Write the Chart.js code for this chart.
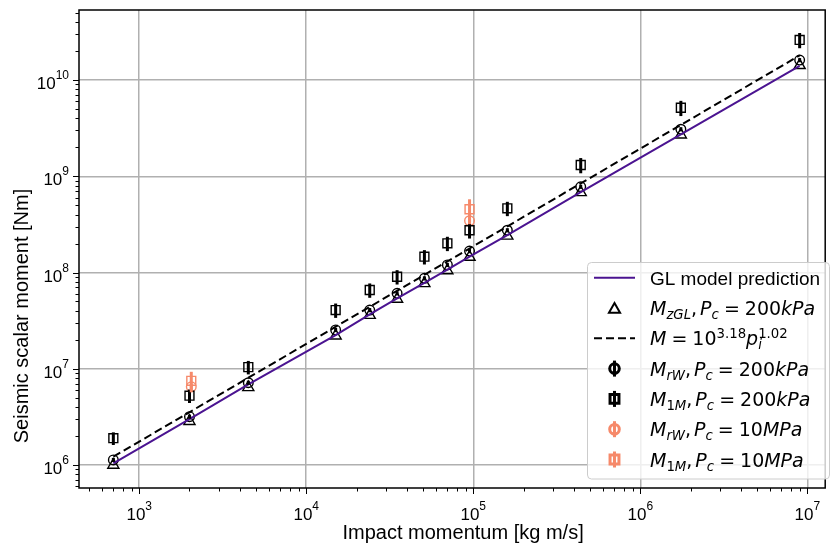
<!DOCTYPE html>
<html>
<head>
<meta charset="utf-8">
<script src="https://cdn.jsdelivr.net/npm/chart.js@4.4.0/dist/chart.umd.min.js"></script>
<style>
  body { margin: 0; background: #fff; }
  canvas { display: block; }
</style>
</head>
<body>
<canvas id="myChart" width="833" height="548"></canvas>
<script>
  // impact momentum [kg m/s]
  const momentum = [700, 2000, 4500, 15000, 24000, 35000, 51000, 70000, 95000, 160000, 440000, 1750000, 9000000];
  // GL model prediction (line) and M_zGL (triangles)
  const glModel = [1.04e6, 3.0e6, 6.9e6, 2.24e7, 3.67e7, 5.4e7, 7.8e7, 1.07e8, 1.46e8, 2.44e8, 6.85e8, 2.72e9, 1.4e10];
  const mzGL = [1.0e6, 2.85e6, 6.4e6, 2.2e7, 3.6e7, 5.3e7, 7.7e7, 1.05e8, 1.45e8, 2.4e8, 6.8e8, 2.7e9, 1.42e10];
  // M_rW, Pc = 200kPa
  const mrW = [1.13e6, 3.18e6, 7.16e6, 2.53e7, 4.07e7, 6.08e7, 8.7e7, 1.2e8, 1.67e8, 2.75e8, 7.78e8, 3.08e9, 1.61e10];
  const mrWErr = [0.05, 0.05, 0.05, 0.05, 0.05, 0.05, 0.05, 0.05, 0.05, 0.05, 0.05, 0.05, 0.05];
  // M_1M, Pc = 200kPa
  const m1M = [1.9e6, 5.25e6, 1.04e7, 4.07e7, 6.58e7, 9.04e7, 1.46e8, 2.01e8, 2.75e8, 4.64e8, 1.31e9, 5.15e9, 2.61e10];
  const m1MErr = [0.15, 0.16, 0.16, 0.17, 0.17, 0.17, 0.17, 0.17, 0.18, 0.17, 0.18, 0.18, 0.18];
  // Pc = 10MPa runs
  const momentumHP = [2050, 95000];
  const mrWHP = [6.5e6, 3.45e8];
  const mrWHPErr = [0.08, 0.08];
  const m1MHP = [7.5e6, 4.54e8];
  const m1MHPErr = [0.24, 0.27];
  // fit M = 10^3.18 p^1.02
  const fitX = [700, 9000000];
  const fitY = [1.22e6, 1.8e10];

  const xMajor = [1e3, 1e4, 1e5, 1e6, 1e7];
  const xExp = ["3", "4", "5", "6", "7"];
  const yMajor = [1e6, 1e7, 1e8, 1e9, 1e10];
  const yExp = ["6", "7", "8", "9", "10"];

  const purple = "#4b1491";
  const salmon = "#f6896a";

  const pts = (xs, ys) => xs.map((x, i) => ({ x: x, y: ys[i] }));

  function drawRich(ctx, x, y, segs, size) {
    for (const s of segs) {
      if (typeof s === "number") { x += s; continue; }
      const [t, it, pos, stay] = s;
      const small = pos === "b" || pos === "p";
      const fs = small ? size * 0.7 : size;
      ctx.font = (it ? "oblique " : "") + fs + 'px "DejaVu Sans"';
      const dy = pos === "b" ? 4 : pos === "p" ? -7 : 0;
      ctx.fillText(t, x, y + dy);
      if (!stay) x += ctx.measureText(t).width;
    }
  }

  const rest = (p) => [[",", 0], 3, ["P", 1], ["c", 1, "b"], 5, ["=", 0], 5].concat(p);
  const legendItems = [
    { kind: "line", color: purple, dash: [], text: null },
    { kind: "tri", color: "#000", segs: [["M", 1], ["zGL", 1, "b"]].concat(rest([["200", 0], ["kPa", 1]])) },
    { kind: "line", color: "#000", dash: [8, 4], segs: [["M", 1], 5, ["=", 0], 5, ["10", 0], ["3.18", 0, "p"], ["p", 1], ["i", 1, "b", true], ["1.02", 0, "p"]] },
    { kind: "circle", color: "#000", segs: [["M", 1], ["rW", 1, "b"]].concat(rest([["200", 0], ["kPa", 1]])) },
    { kind: "rect", color: "#000", segs: [["M", 1], ["1", 0, "b"], ["M", 1, "b"]].concat(rest([["200", 0], ["kPa", 1]])) },
    { kind: "circle", color: salmon, segs: [["M", 1], ["rW", 1, "b"]].concat(rest([["10", 0], ["MPa", 1]])) },
    { kind: "rect", color: salmon, segs: [["M", 1], ["1", 0, "b"], ["M", 1, "b"]].concat(rest([["10", 0], ["MPa", 1]])) },
  ];

  const markerOpts = {
    circle: { pointStyle: "circle", radius: 4.8, rotation: 0, borderWidth: 1.4 },
    rect: { pointStyle: "rect", radius: 6.3, rotation: 0, borderWidth: 1.4 },
    tri: { pointStyle: "triangle", radius: 6.4, rotation: 0, borderWidth: 1.4 },
  };

  const decor = {
    id: "decor",
    afterDatasetsDraw(chart) {
      const ctx = chart.ctx;
      const xs = chart.scales.x, ys = chart.scales.y;
      const a = chart.chartArea;
      ctx.save();
      // error bars
      chart.data.datasets.forEach((ds) => {
        if (!ds.yerr) return;
        ctx.strokeStyle = ds.borderColor;
        ctx.lineWidth = 3;
        ds.data.forEach((p, i) => {
          const px = xs.getPixelForValue(p.x);
          ctx.beginPath();
          ctx.moveTo(px, ys.getPixelForValue(p.y * (1 - ds.yerr[i])));
          ctx.lineTo(px, ys.getPixelForValue(p.y * (1 + ds.yerr[i])));
          ctx.stroke();
        });
      });
      // frame
      ctx.strokeStyle = "#000";
      ctx.lineWidth = 1.5;
      ctx.strokeRect(a.left, a.top, a.right - a.left, a.bottom - a.top);
      // tick marks
      ctx.lineWidth = 1;
      const tick = (scale, v, len) => {
        const p = Math.round(scale.getPixelForValue(v)) + 0.5;
        ctx.beginPath();
        if (scale.axis === "x") { ctx.moveTo(p, a.bottom); ctx.lineTo(p, a.bottom + len); }
        else { ctx.moveTo(a.left, p); ctx.lineTo(a.left - len, p); }
        ctx.stroke();
      };
      [xs, ys].forEach((scale) => {
        const lo = Math.floor(Math.log10(scale.min)), hi = Math.ceil(Math.log10(scale.max));
        for (let d = lo; d <= hi; d++) {
          for (let m = 1; m <= 9; m++) {
            const v = m * Math.pow(10, d);
            if (v < scale.min || v > scale.max) continue;
            tick(scale, v, m === 1 ? 6 : 3.5);
          }
        }
      });
      // tick labels
      ctx.fillStyle = "#000";
      ctx.textBaseline = "alphabetic";
      ctx.textAlign = "left";
      xMajor.forEach((v, i) => {
        const px = xs.getPixelForValue(v);
        ctx.font = '17px "Liberation Sans"';
        const w1 = ctx.measureText("10").width;
        ctx.font = '12px "Liberation Sans"';
        const w2 = ctx.measureText(xExp[i]).width;
        const x0 = px - (w1 + w2) / 2;
        ctx.font = '17px "Liberation Sans"';
        ctx.fillText("10", x0, 520);
        ctx.font = '12px "Liberation Sans"';
        ctx.fillText(xExp[i], x0 + w1, 510);
      });
      yMajor.forEach((v, i) => {
        const py = ys.getPixelForValue(v);
        ctx.font = '12px "Liberation Sans"';
        const w2 = ctx.measureText(yExp[i]).width;
        ctx.font = '17px "Liberation Sans"';
        const w1 = ctx.measureText("10").width;
        const xr = a.left - 10;
        ctx.fillText("10", xr - w2 - w1, py + 9);
        ctx.font = '12px "Liberation Sans"';
        ctx.fillText(yExp[i], xr - w2, py - 1);
      });
      // axis titles
      ctx.font = '20px "Liberation Sans"';
      ctx.textAlign = "center";
      ctx.textBaseline = "middle";
      ctx.fillText("Impact momentum [kg m/s]", (a.left + a.right) / 2 + 11, 533);
      ctx.save();
      ctx.translate(22, 316);
      ctx.rotate(-Math.PI / 2);
      ctx.fillText("Seismic scalar moment [Nm]", 0, 0);
      ctx.restore();
      // legend
      const bx = 587.5, by = 262.5, bw = 242, bh = 216.5;
      ctx.beginPath();
      ctx.roundRect(bx, by, bw, bh, 4);
      ctx.fillStyle = "rgba(255,255,255,0.8)";
      ctx.fill();
      ctx.strokeStyle = "#cccccc";
      ctx.lineWidth = 1;
      ctx.stroke();
      ctx.textAlign = "left";
      ctx.textBaseline = "alphabetic";
      legendItems.forEach((it, k) => {
        const y = 277.7 + k * 30.3;
        ctx.strokeStyle = it.color;
        ctx.fillStyle = it.color;
        if (it.kind === "line") {
          ctx.lineWidth = 2;
          ctx.setLineDash(it.dash);
          ctx.beginPath();
          ctx.moveTo(594, y);
          ctx.lineTo(635, y);
          ctx.stroke();
          ctx.setLineDash([]);
        } else {
          if (it.kind !== "tri") {
            ctx.lineWidth = 3;
            ctx.beginPath();
            ctx.moveTo(614.5, y - 8);
            ctx.lineTo(614.5, y + 8);
            ctx.stroke();
          }
          ctx.fillStyle = "rgba(0,0,0,0)";
          Chart.helpers.drawPoint(ctx, markerOpts[it.kind], 614.5, it.kind === "tri" ? y + 1.5 : y);
        }
        ctx.fillStyle = "#000";
        if (k === 0) {
          ctx.font = '19px "Liberation Sans"';
          ctx.fillText("GL model prediction", 650, y + 7);
        } else {
          drawRich(ctx, 650, y + 7, it.segs, 19);
        }
      });
      ctx.restore();
    },
  };

  const ctx1 = document.getElementById("myChart");

  new Chart(ctx1, {
    type: "scatter",
    data: {
      datasets: [
        {
          label: "GL model prediction",
          data: pts(momentum, glModel),
          showLine: true,
          borderColor: purple,
          borderWidth: 2,
          pointRadius: 0,
        },
        {
          label: "M_zGL",
          data: pts(momentum, mzGL),
          pointStyle: "triangle",
          pointRadius: 6.4,
          borderColor: "#000",
          backgroundColor: "rgba(0,0,0,0)",
          borderWidth: 1.4,
        },
        {
          label: "fit",
          data: pts(fitX, fitY),
          showLine: true,
          borderColor: "#000",
          borderWidth: 2,
          borderDash: [8, 4],
          pointRadius: 0,
        },
        {
          label: "M_rW 200kPa",
          data: pts(momentum, mrW),
          yerr: mrWErr,
          pointStyle: "circle",
          pointRadius: 4.8,
          borderColor: "#000",
          backgroundColor: "rgba(0,0,0,0)",
          borderWidth: 1.4,
        },
        {
          label: "M_1M 200kPa",
          data: pts(momentum, m1M),
          yerr: m1MErr,
          pointStyle: "rect",
          pointRadius: 6.3,
          borderColor: "#000",
          backgroundColor: "rgba(0,0,0,0)",
          borderWidth: 1.4,
        },
        {
          label: "M_rW 10MPa",
          data: pts(momentumHP, mrWHP),
          yerr: mrWHPErr,
          pointStyle: "circle",
          pointRadius: 4.8,
          borderColor: salmon,
          backgroundColor: "rgba(0,0,0,0)",
          borderWidth: 1.4,
        },
        {
          label: "M_1M 10MPa",
          data: pts(momentumHP, m1MHP),
          yerr: m1MHPErr,
          pointStyle: "rect",
          pointRadius: 6.3,
          borderColor: salmon,
          backgroundColor: "rgba(0,0,0,0)",
          borderWidth: 1.4,
        },
      ],
    },
    options: {
      responsive: false,
      animation: false,
      layout: { padding: { left: 79, top: 10, right: 2, bottom: 60 } },
      scales: {
        x: {
          type: "logarithmic",
          min: 436,
          max: 1.28e7,
          afterBuildTicks: (s) => { s.ticks = xMajor.map((v) => ({ value: v })); },
          ticks: { display: false },
          grid: { color: "#b0b0b0", lineWidth: 1.5, drawTicks: false },
          border: { display: false },
        },
        y: {
          type: "logarithmic",
          min: 5.77e5,
          max: 5.34e10,
          afterBuildTicks: (s) => { s.ticks = yMajor.map((v) => ({ value: v })); },
          ticks: { display: false },
          grid: { color: "#b0b0b0", lineWidth: 1.5, drawTicks: false },
          border: { display: false },
        },
      },
      plugins: {
        legend: { display: false },
        tooltip: { enabled: false },
      },
    },
    plugins: [decor],
  });
</script>
</body>
</html>
